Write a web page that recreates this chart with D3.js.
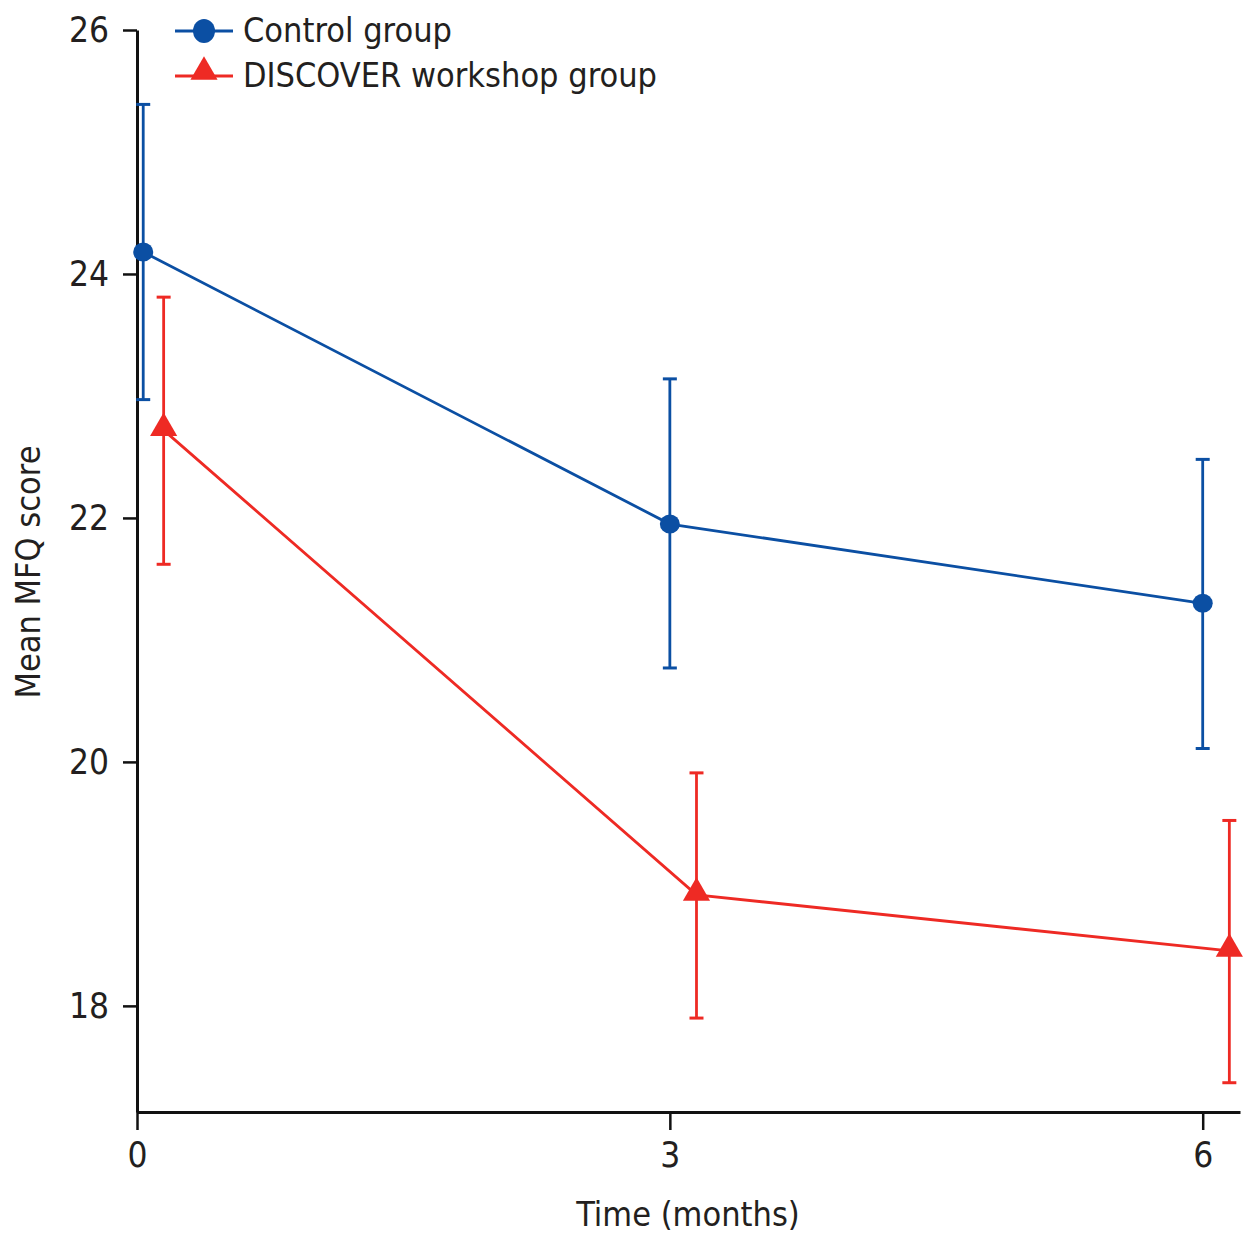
<!DOCTYPE html>
<html>
<head>
<meta charset="utf-8">
<script src="https://cdn.jsdelivr.net/npm/d3@7"></script>
<style>
  body { margin: 0; background: #fff; }
  text { font-family: "Liberation Sans Narrow", "DejaVu Sans Condensed", "Open Sans", sans-serif; fill: #231f20; }
</style>
</head>
<body>
<div id="chart"></div>
<script>
// data
const seriesNames = ['Control group', 'DISCOVER workshop group'];
const controlX = [0.035, 3.0, 6.0];
const controlMean = [24.18, 21.95, 21.30];
const controlLow = [22.97, 20.77, 20.11];
const controlHigh = [25.39, 23.14, 22.48];
const discoverX = [0.15, 3.15, 6.15];
const discoverMean = [22.72, 18.91, 18.45];
const discoverLow = [21.62, 17.90, 17.37];
const discoverHigh = [23.81, 19.91, 19.52];
const xTicks = [0, 3, 6];
const yTicks = [18, 20, 22, 24, 26];

const width = 1244, height = 1233;
const margin = {top: 30, right: 4, bottom: 121, left: 137};
const blue = '#0b4fa3', red = '#ee2a24';

const svg = d3.select('#chart').append('svg')
  .attr('width', width)
  .attr('height', height);

const x = d3.scaleLinear().domain([0, 6.21]).range([margin.left, width - margin.right]);
const y = d3.scaleLinear().domain([17.13, 26]).range([height - margin.bottom, margin.top]);

// axes
const yAxis = svg.append('g')
  .attr('transform', `translate(${margin.left},0)`)
  .call(d3.axisLeft(y).tickValues(yTicks).tickFormat(d3.format('d')).tickSize(14).tickPadding(14).tickSizeOuter(0));
const xAxis = svg.append('g')
  .attr('transform', `translate(0,${height - margin.bottom})`)
  .call(d3.axisBottom(x).tickValues(xTicks).tickFormat(d3.format('d')).tickSize(18).tickPadding(12).tickSizeOuter(0));

[xAxis, yAxis].forEach(a => {
  a.select('.domain').attr('stroke', '#111').attr('stroke-width', 3);
  a.selectAll('.tick line').attr('stroke', '#111').attr('stroke-width', 2.5);
  a.selectAll('.tick text').style('font-size', '35px').attr('fill', '#231f20');
});

// axis titles
svg.append('text')
  .attr('x', 688).attr('y', 1226)
  .attr('text-anchor', 'middle')
  .style('font-size', '34px')
  .text('Time (months)');
svg.append('text')
  .attr('transform', `translate(40,572) rotate(-90)`)
  .attr('text-anchor', 'middle')
  .style('font-size', '34px')
  .text('Mean MFQ score');

// series
const series = [
  {name: seriesNames[0], xs: controlX, mean: controlMean, low: controlLow, high: controlHigh, color: blue, shape: 'circle'},
  {name: seriesNames[1], xs: discoverX, mean: discoverMean, low: discoverLow, high: discoverHigh, color: red, shape: 'triangle'}
];

const line = d3.line().x(d => x(d.x)).y(d => y(d.m));
const triangle = d3.symbol().type(d3.symbolTriangle).size(320);

series.forEach(s => {
  const pts = s.xs.map((v, i) => ({x: v, m: s.mean[i], lo: s.low[i], hi: s.high[i]}));
  const g = svg.append('g');

  g.append('path')
    .datum(pts)
    .attr('d', line)
    .attr('fill', 'none')
    .attr('stroke', s.color)
    .attr('stroke-width', 2.8);

  // error bars
  const eb = g.selectAll('.eb').data(pts).enter().append('g');
  eb.append('line')
    .attr('x1', d => x(d.x)).attr('x2', d => x(d.x))
    .attr('y1', d => y(d.lo)).attr('y2', d => y(d.hi))
    .attr('stroke', s.color).attr('stroke-width', 2.8);
  ['lo', 'hi'].forEach(k => {
    eb.append('line')
      .attr('x1', d => x(d.x) - 7).attr('x2', d => x(d.x) + 7)
      .attr('y1', d => y(d[k])).attr('y2', d => y(d[k]))
      .attr('stroke', s.color).attr('stroke-width', 3);
  });

  // markers
  if (s.shape === 'circle') {
    g.selectAll('.pt').data(pts).enter().append('ellipse')
      .attr('cx', d => x(d.x)).attr('cy', d => y(d.m))
      .attr('rx', 10).attr('ry', 9.5)
      .attr('fill', s.color);
  } else {
    g.selectAll('.pt').data(pts).enter().append('path')
      .attr('d', triangle)
      .attr('transform', d => `translate(${x(d.x)},${y(d.m) - 2})`)
      .attr('fill', s.color);
  }
});

// legend
const legend = svg.append('g');
series.forEach((s, i) => {
  const ly = 31 + i * 45;
  legend.append('line')
    .attr('x1', 175).attr('x2', 233)
    .attr('y1', ly).attr('y2', ly)
    .attr('stroke', s.color).attr('stroke-width', 2.8);
  if (s.shape === 'circle') {
    legend.append('ellipse').attr('cx', 204).attr('cy', ly).attr('rx', 11).attr('ry', 12).attr('fill', s.color);
  } else {
    legend.append('path').attr('d', triangle).attr('transform', `translate(204,${ly - 4})`).attr('fill', s.color);
  }
  legend.append('text')
    .attr('x', 243).attr('y', ly + 11)
    .style('font-size', '34px')
    .text(s.name);
});
</script>
</body>
</html>
